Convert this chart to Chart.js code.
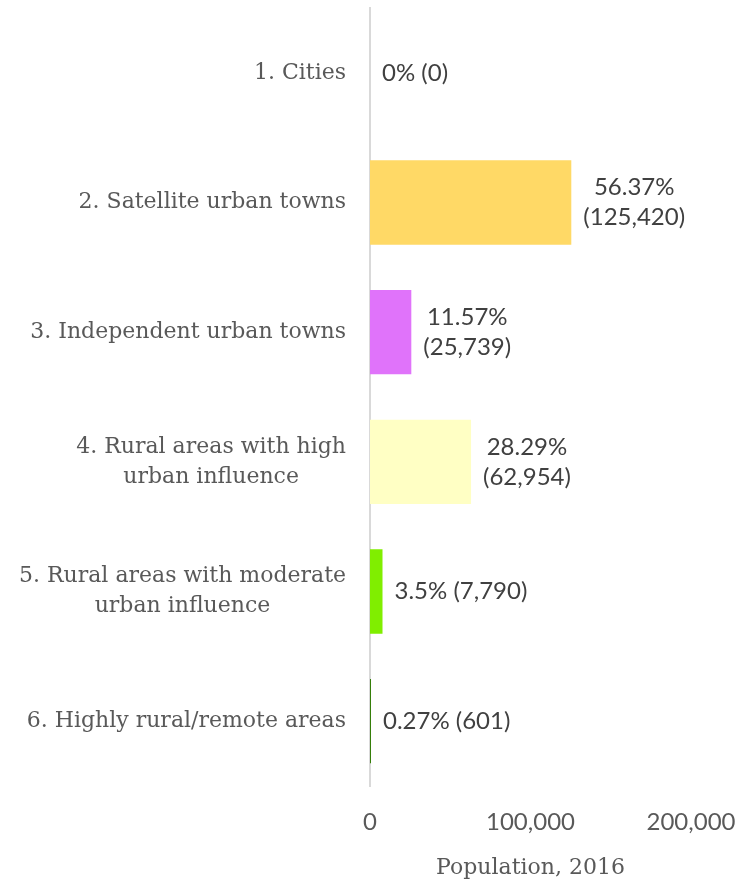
<!DOCTYPE html>
<html>
<head>
<meta charset="utf-8">
<script src="https://cdn.jsdelivr.net/npm/chart.js@4"></script>
<style>
  html, body { margin: 0; padding: 0; background: #ffffff; }
  #wrap { position: relative; width: 742px; height: 882px; }
</style>
</head>
<body>
<div id="wrap"><canvas id="chart"></canvas></div>
<script>
// Settlement classes (each entry is the label's lines)
const categories = [
  ["1. Cities"],
  ["2. Satellite urban towns"],
  ["3. Independent urban towns"],
  ["4. Rural areas with high", "urban influence"],
  ["5. Rural areas with moderate", "urban influence"],
  ["6. Highly rural/remote areas"]
];
// Population in 2016 and share of the total
const population = [0, 125420, 25739, 62954, 7790, 601];
const shares = ["0%", "56.37%", "11.57%", "28.29%", "3.5%", "0.27%"];
// Whether the value label breaks onto two lines
const labelTwoLines = [false, true, true, true, false, false];
const barColors = ["#4472C4", "#FFD966", "#E073FA", "#FFFFC4", "#80EE00", "#2E7A00"];
const xTicks = [0, 100000, 200000];

const fmt = n => n.toLocaleString("en-US");

const SERIF = "'DejaVu Serif', serif";
const SANS = "Lato, sans-serif";

// Category labels: right-aligned block, lines centred within each block
const categoryLabels = {
  id: "categoryLabels",
  afterDraw(chart) {
    const ctx = chart.ctx;
    const y = chart.scales.y;
    const right = chart.chartArea.left - 24;
    ctx.save();
    ctx.font = "22px " + SERIF;
    ctx.fillStyle = "#595959";
    ctx.textBaseline = "middle";
    ctx.textAlign = "center";
    const lh = 30;
    categories.forEach((lines, i) => {
      const w = Math.max(...lines.map(l => ctx.measureText(l).width));
      const cx = right - w / 2;
      const cy = y.getPixelForValue(i);
      const top = cy - (lines.length - 1) * lh / 2;
      lines.forEach((l, k) => ctx.fillText(l, cx, top + k * lh));
    });
    ctx.restore();
  }
};

// Value labels after each bar: "share (population)"
const valueLabels = {
  id: "valueLabels",
  afterDatasetsDraw(chart) {
    const ctx = chart.ctx;
    const meta = chart.getDatasetMeta(0);
    ctx.save();
    ctx.font = "24px " + SANS;
    ctx.fillStyle = "#404040";
    ctx.textBaseline = "middle";
    ctx.textAlign = "center";
    const lh = 30;
    meta.data.forEach((bar, i) => {
      const lines = labelTwoLines[i]
        ? [shares[i], "(" + fmt(population[i]) + ")"]
        : [shares[i] + " (" + fmt(population[i]) + ")"];
      const w = Math.max(...lines.map(l => ctx.measureText(l).width));
      const cx = bar.x + 12 + w / 2;
      const top = bar.y - (lines.length - 1) * lh / 2;
      lines.forEach((l, k) => ctx.fillText(l, cx, top + k * lh));
    });
    ctx.restore();
  }
};

new Chart(document.getElementById("chart"), {
  type: "bar",
  data: {
    labels: categories.map(c => c.join(" ")),
    datasets: [{
      data: population,
      backgroundColor: barColors,
      borderWidth: 0,
      barPercentage: 0.65,
      categoryPercentage: 1.0
    }]
  },
  options: {
    indexAxis: "y",
    responsive: true,
    maintainAspectRatio: false,
    animation: false,
    layout: { padding: { left: 370, right: 0, top: 8, bottom: 0 } },
    plugins: {
      legend: { display: false },
      tooltip: { enabled: false }
    },
    scales: {
      x: {
        min: 0,
        max: 200000,
        afterBuildTicks: s => { s.ticks = xTicks.map(v => ({ value: v })); },
        afterFit: s => { s.height = 96; s.paddingRight = 51; },
        grid: { display: false, drawTicks: false },
        border: { display: false },
        ticks: {
          color: "#595959",
          font: { family: SANS, size: 24 },
          padding: 22,
          maxRotation: 0,
          callback: v => fmt(v)
        },
        title: {
          display: true,
          text: "Population, 2016",
          color: "#595959",
          font: { family: SERIF, size: 22 },
          padding: { top: 0, bottom: 1 }
        }
      },
      y: {
        grid: { display: false, drawTicks: false },
        border: { display: true, color: "#D9D9D9", width: 2 },
        ticks: { display: false }
      }
    }
  },
  plugins: [categoryLabels, valueLabels]
});
</script>
</body>
</html>
